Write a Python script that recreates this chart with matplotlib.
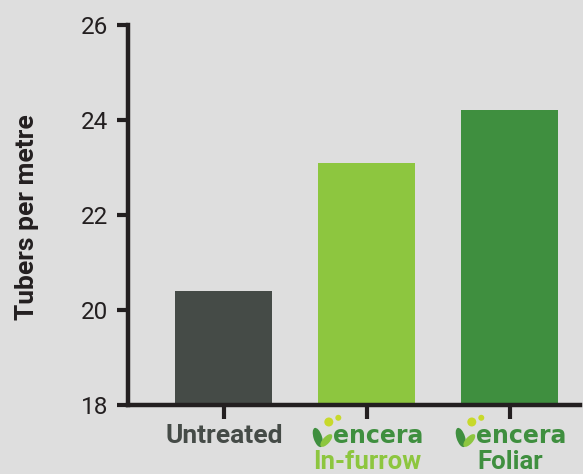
import matplotlib
matplotlib.use("Agg")
import matplotlib.pyplot as plt
from matplotlib.patches import Ellipse, Circle
from matplotlib.transforms import ScaledTranslation

categories = ["Untreated", "In-furrow", "Foliar"]
values = [20.4, 23.1, 24.2]
yticks = [18, 20, 22, 24, 26]
ylabel = "Tubers per metre"
brand = "encera"

bar_colors = ["#454b47", "#8dc63f", "#3f8f3f"]
label_colors = ["#454b47", "#8dc63f", "#3f8f3f"]
bg = "#dedede"
ink = "#231f20"

fig = plt.figure(figsize=(5.83, 4.74), dpi=100, facecolor=bg)
ax = fig.add_axes([0.2196, 0.1456, 0.775, 0.8017])
ax.set_facecolor(bg)

x = list(range(len(categories)))
ax.bar(x, values, width=0.68, color=bar_colors, bottom=0, zorder=2)
ax.set_ylim(18, 26)
ax.set_xlim(-0.67, 2.49)
ax.set_yticks(yticks)
ax.set_yticklabels([str(t) for t in yticks], fontfamily="Roboto", fontsize=17.5, color=ink)
ax.set_xticks(x)
ax.set_xticklabels([""] * len(x))
for s in ["top", "right"]:
    ax.spines[s].set_visible(False)
for s in ["left", "bottom"]:
    ax.spines[s].set_linewidth(3.2)
    ax.spines[s].set_color(ink)
ax.tick_params(axis="y", length=8, width=3, color=ink, pad=6)
ax.tick_params(axis="x", length=10, width=3, color=ink)
ax.set_ylabel(ylabel, fontfamily="Roboto", fontweight="bold", fontsize=19, color=ink, va="center")
ax.yaxis.set_label_coords(-0.223, 0.495)

xt = ax.get_xaxis_transform()


def px_trans(xc):
    # coordinates in inches relative to (xc, axis bottom)
    return fig.dpi_scale_trans + ScaledTranslation(xc, 0, xt)


def off(dx_px, dy_px):
    return xt + ScaledTranslation(dx_px / 100, dy_px / 100, fig.dpi_scale_trans)


# Untreated label
ax.text(x[0], 0, categories[0], transform=off(0, -38),
        ha="center", va="baseline", fontfamily="Roboto", fontweight="bold", fontsize=19,
        color=label_colors[0])

for i in [1, 2]:
    xc = x[i]
    t = px_trans(xc)
    leaf1 = Ellipse((-0.49, -0.325), 0.085, 0.20, angle=18, transform=t,
                    facecolor="#3f8f3f", edgecolor="none", clip_on=False)
    leaf2 = Ellipse((-0.405, -0.355), 0.07, 0.16, angle=-42, transform=t,
                    facecolor="#8dc63f", edgecolor="none", clip_on=False)
    dot1 = Circle((-0.38, -0.17), 0.045, transform=t, facecolor="#c8d92b",
                  edgecolor="none", clip_on=False)
    dot2 = Circle((-0.285, -0.128), 0.03, transform=t, facecolor="#c8d92b",
                  edgecolor="none", clip_on=False)
    for p in (leaf1, leaf2, dot1, dot2):
        fig.add_artist(p)
    ax.text(xc, 0, brand, transform=off(11, -38),
            ha="center", va="baseline", fontfamily="DejaVu Sans", fontweight="bold", fontsize=17,
            color="#3f8f3f")
    ax.text(xc, 0, categories[i], transform=off(0, -64),
            ha="center", va="baseline", fontfamily="Roboto", fontweight="bold", fontsize=18.5,
            color=label_colors[i])

fig.savefig("out.png", dpi=100, facecolor=bg)
